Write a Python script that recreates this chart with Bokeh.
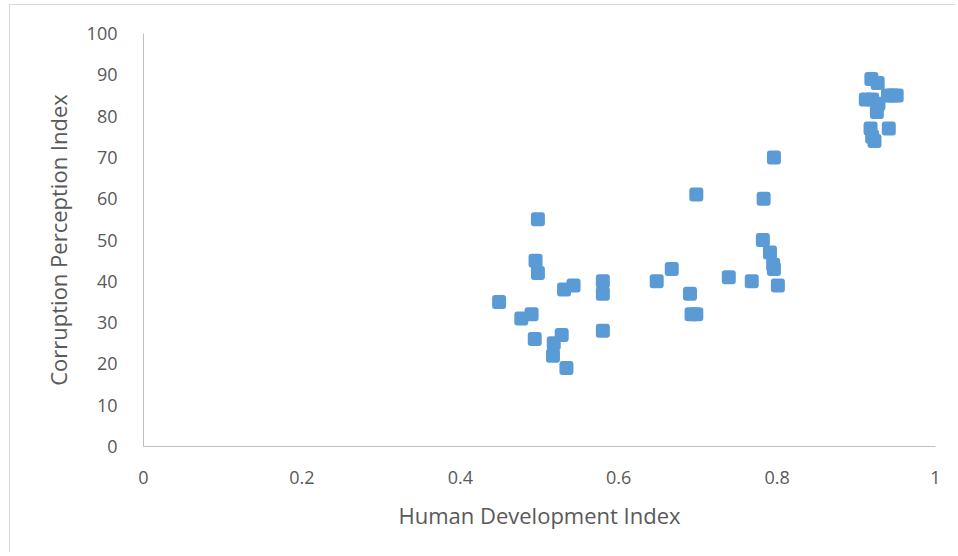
from bokeh.plotting import figure
from bokeh.models import ColumnDataSource, FixedTicker, Range1d
from bokeh.embed import file_html
from bokeh.resources import INLINE

hdi = [0.449, 0.477, 0.490, 0.494, 0.495, 0.498, 0.498, 0.517, 0.518, 0.528,
       0.531, 0.534, 0.543, 0.580, 0.580, 0.580,
       0.648, 0.667, 0.690, 0.692, 0.698, 0.698, 0.739, 0.768, 0.782, 0.783,
       0.791, 0.795, 0.796, 0.796, 0.801,
       0.919, 0.927, 0.912, 0.920, 0.928, 0.940, 0.946, 0.951, 0.926, 0.918,
       0.920, 0.923, 0.941]
cpi = [35, 31, 32, 26, 45, 42, 55, 22, 25, 27,
       38, 19, 39, 40, 37, 28,
       40, 43, 37, 32, 32, 61, 41, 40, 50, 60,
       47, 44, 43, 70, 39,
       89, 88, 84, 84, 83, 85, 85, 85, 81, 77,
       75, 74, 77]

x_ticks = [0, 0.2, 0.4, 0.6, 0.8, 1]
y_ticks = [0, 10, 20, 30, 40, 50, 60, 70, 80, 90, 100]

src = ColumnDataSource(dict(x=hdi, y=cpi))

p = figure(width=946, height=548, output_backend="svg", toolbar_location=None,
           x_range=Range1d(0, 1), y_range=Range1d(0, 100),
           min_border_left=133, min_border_right=21, min_border_top=28,
           min_border_bottom=107)
p.outline_line_color = None
p.grid.visible = False
p.styles = {"border-left": "1px solid #d9d9d9", "border-top": "1px solid #d9d9d9",
            "margin-left": "9px", "margin-top": "4px"}

p.scatter("x", "y", source=src, marker="square", size=8,
          fill_color="#5b9bd5", line_color="#5b9bd5", line_width=6,
          line_join="round")

p.xaxis.ticker = FixedTicker(ticks=x_ticks)
p.yaxis.ticker = FixedTicker(ticks=y_ticks)
p.xaxis.major_label_overrides = {0: "0", 1: "1"}

for ax in (p.xaxis[0], p.yaxis[0]):
    ax.axis_line_color = "#bfbfbf"
    ax.axis_line_width = 1
    ax.major_tick_line_color = None
    ax.minor_tick_line_color = None
    ax.major_label_text_font = "Open Sans"
    ax.major_label_text_font_size = "18px"
    ax.major_label_text_color = "#595959"
    ax.axis_label_text_font = "Open Sans"
    ax.axis_label_text_font_size = "22px"
    ax.axis_label_text_color = "#595959"
    ax.axis_label_text_font_style = "normal"

p.xaxis.axis_label = "Human Development Index"
p.yaxis.axis_label = "Corruption Perception Index"
p.xaxis.major_label_standoff = 18
p.yaxis.major_label_standoff = 20
p.xaxis.axis_label_standoff = 13
p.yaxis.axis_label_standoff = 11

open("out.html", "w").write(file_html(p, INLINE))
